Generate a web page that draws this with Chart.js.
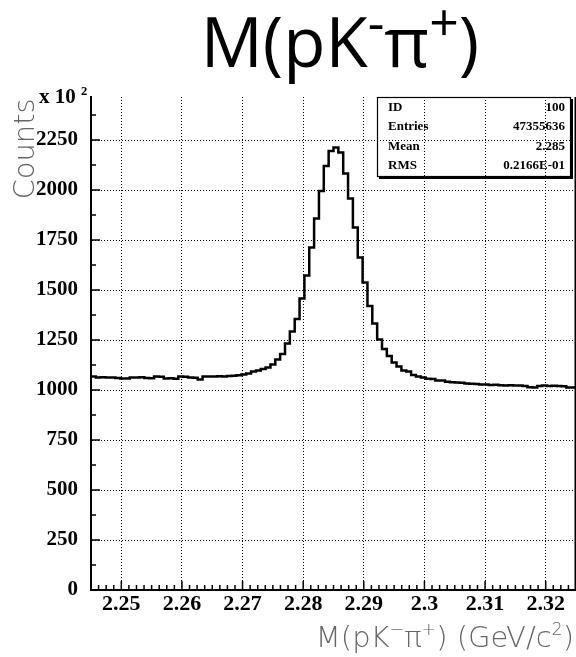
<!DOCTYPE html>
<html><head><meta charset="utf-8">
<script src="https://cdn.jsdelivr.net/npm/chart.js@4.4.1/dist/chart.umd.min.js"></script>
<style>html,body{margin:0;padding:0;background:#fff;overflow:hidden}#wrap{position:relative;width:576px;height:657px}</style>
</head><body><div id="wrap"><canvas id="c" width="576" height="657"></canvas></div>
<script>
// ---- data (units of 10^2 counts) ----
const binLow = 2.245;
const binWidth = 0.0008;
const counts = [
 1070,1068,1063,1064,1062,1063,1060,1057,1058,1063,
 1062,1064,1060,1059,1067,1066,1058,1059,1056,1067,
 1066,1062,1061,1053,1067,1068,1067,1069,1068,1070,
 1071,1074,1077,1083,1092,1097,1105,1113,1128,1152,
 1180,1232,1292,1355,1458,1572,1712,1858,1995,2120,
 2195,2213,2187,2083,1958,1812,1663,1537,1420,1333,
 1253,1205,1170,1138,1117,1097,1092,1075,1067,1062,
 1056,1055,1048,1047,1041,1039,1038,1036,1033,1031,
 1030,1027,1028,1025,1026,1024,1023,1024,1022,1023,
 1020,1014,1012,1020,1022,1020,1021,1020,1019,1012
];
const xTicks = [2.25,2.26,2.27,2.28,2.29,2.30,2.31,2.32];
const yTicks = [0,250,500,750,1000,1250,1500,1750,2000,2250];
const xMin = 2.245, xMax = 2.325, yMin = 0, yMax = 2465;
const xMinorStep = 0.00125, yMinorStep = 125;
const statsLabels = ['ID','Entries','Mean','RMS'];
const statsValues = ['100','47355636','2.285','0.2166E-01'];

const points = counts.map((v,i)=>({x: binLow + i*binWidth, y: v}));
points.push({x: binLow + counts.length*binWidth, y: counts[counts.length-1]});

function drawRich(ctx, parts, x, y, align, fam, weight, size, color, supScale, supRise){
  supScale = supScale || 0.6; supRise = supRise || 0.4;
  const f = s => weight + ' ' + s + 'px ' + fam;
  let total = 0;
  const ws = parts.map(p=>{ctx.font = f(p.sup? size*supScale : size); const w = ctx.measureText(p.t).width; total += w; return w;});
  let cx = align==='center' ? x - total/2 : (align==='right' ? x - total : x);
  ctx.fillStyle = color; ctx.textAlign='left'; ctx.textBaseline='alphabetic';
  parts.forEach((p,i)=>{ctx.font = f(p.sup? size*supScale : size); ctx.fillText(p.t, cx, p.sup ? y - size*supRise : y); cx += ws[i];});
}

const decor = {
  id:'decor',
  afterDraw(chart){
    const ctx = chart.ctx, xs = chart.scales.x, ys = chart.scales.y, a = chart.chartArea;
    ctx.save();
    ctx.strokeStyle = '#000'; ctx.lineWidth = 1.5;
    // inward ticks
    ctx.beginPath();
    for (let k = -4; k <= 60; k++) {
      const v = 2.25 + k*xMinorStep;
      if (v < xMin - 1e-9 || v > xMax + 1e-9) continue;
      const px = xs.getPixelForValue(v);
      const major = k % 8 === 0;
      ctx.moveTo(px, a.bottom); ctx.lineTo(px, a.bottom - (major?9:5));
    }
    for (let v = yMin; v <= yMax; v += yMinorStep) {
      const py = ys.getPixelForValue(v);
      const major = v % 250 === 0;
      ctx.moveTo(a.left, py); ctx.lineTo(a.left + (major?9:5), py);
    }
    ctx.stroke();
    // right frame
    ctx.lineWidth = 1.5;
    ctx.beginPath(); ctx.moveTo(a.right-0.75, a.top); ctx.lineTo(a.right-0.75, a.bottom); ctx.stroke();
    // stats box
    ctx.lineWidth = 1.2;
    ctx.strokeRect(377.5, 97.5, 193, 79);
    ctx.lineWidth = 2;
    ctx.beginPath(); ctx.moveTo(572, 99); ctx.lineTo(572, 178); ctx.lineTo(379, 178); ctx.stroke();
    ctx.fillStyle = '#000';
    ctx.font = 'bold 13px "Liberation Serif", serif';
    const rows = [110.5, 130, 149.5, 169];
    statsLabels.forEach((s,i)=>{ctx.textAlign='left'; ctx.fillText(s, 388, rows[i]);});
    statsValues.forEach((s,i)=>{ctx.textAlign='right'; ctx.fillText(s, 565, rows[i]);});
    // x 10^2
    drawRich(ctx, [{t:'x 10 '},{t:'2',sup:true}], 39, 103, 'left', '"Liberation Serif", serif', 'bold', 21, '#000');
    // title
    drawRich(ctx, [{t:'M(pK'},{t:'-',sup:true},{t:'π'},{t:'+',sup:true},{t:')'}], 340, 67, 'center', '"Open Sans", sans-serif', 'normal', 69, '#000', 0.75, 0.38);
    // x title
    drawRich(ctx, [{t:'M(pK'},{t:'−',sup:true},{t:'π'},{t:'+',sup:true},{t:') (GeV/c'},{t:'2',sup:true},{t:')'}], 574, 647, 'right', '"DejaVu Sans", sans-serif', '200', 29, '#666');
    // y title
    ctx.translate(34, 149); ctx.rotate(-Math.PI/2);
    drawRich(ctx, [{t:'Counts'}], 0, 0, 'center', '"DejaVu Sans", sans-serif', '200', 29, '#666');
    ctx.restore();
  }
};

new Chart(document.getElementById('c'), {
  type: 'line',
  data: { datasets: [{ data: points, borderColor:'#000', borderWidth:2.5, pointRadius:0, stepped:'after', fill:false, tension:0 }] },
  options: {
    responsive:false, animation:false, devicePixelRatio:1,
    layout:{padding:{top:97, left:0, right:0, bottom:0}},
    plugins:{legend:{display:false}, tooltip:{enabled:false}, title:{display:false}},
    scales:{
      x:{ type:'linear', min:xMin, max:xMax,
          afterFit: s=>{s.height = 67;},
          afterBuildTicks: s=>{s.ticks = xTicks.map(v=>({value:v}));},
          ticks:{ callback: v=>String(parseFloat(Number(v).toFixed(2))), color:'#000', font:{family:'"Liberation Serif", serif', weight:'bold', size:22}, padding:1, maxRotation:0, autoSkip:false },
          grid:{ color:'#000', lineWidth:1, drawTicks:false },
          border:{ display:true, color:'#000', width:2, dash:[1,2] } },
      y:{ type:'linear', min:yMin, max:yMax,
          afterFit: s=>{s.width = 91;},
          afterBuildTicks: s=>{s.ticks = yTicks.map(v=>({value:v}));},
          ticks:{ callback: v=>String(v), color:'#000', font:{family:'"Liberation Serif", serif', weight:'bold', size:21}, padding:13, autoSkip:false },
          grid:{ color:'#000', lineWidth:1, drawTicks:false },
          border:{ display:true, color:'#000', width:2, dash:[1,2] } }
    }
  },
  plugins:[decor]
});
</script></body></html>
